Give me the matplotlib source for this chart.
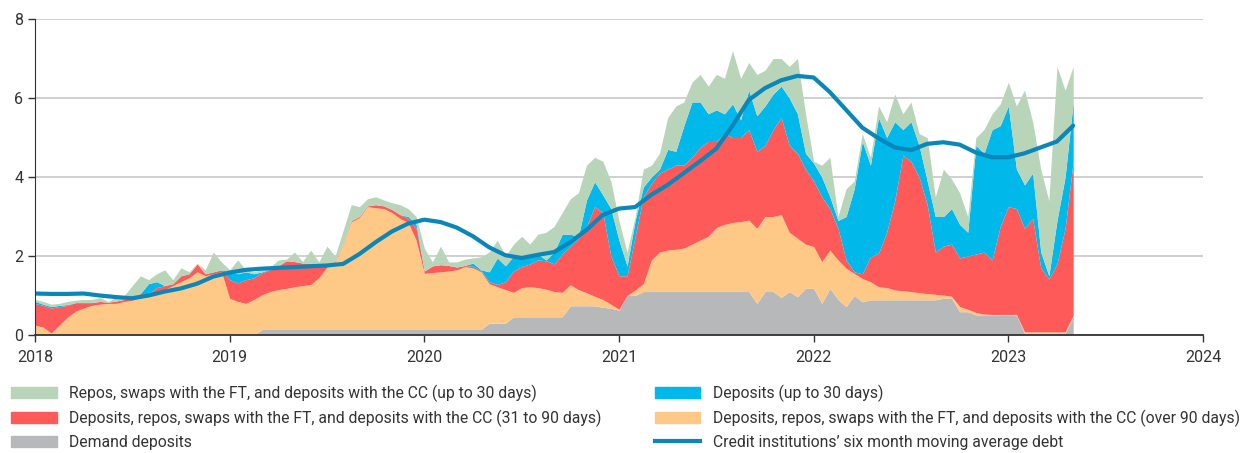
import matplotlib
matplotlib.use("Agg")
import matplotlib.pyplot as plt
from matplotlib.patches import Patch
from matplotlib.lines import Line2D
import numpy as np

plt.rcParams['font.family'] = ['Roboto', 'DejaVu Sans']

# half-monthly readings, Jan 2018 .. end Apr 2023 (top of each stacked layer, bn)
dates = 2018 + np.arange(129) / 24.0

top_demand = [0]*28 + [0.14]*28 + [0.3]*3 + [0.46]*7 + [0.74]*4 + [0.7, 0.68, 0.63, 1.0, 1.0] + \
    [1.1]*14 + [0.8, 1.1, 1.1, 0.95, 1.1, 0.97, 1.18,
                1.18, 0.8, 1.18, 0.9, 0.72, 1.0, 0.84] + [0.89]*9 + [0.93]*2 + [0.59]*2 + \
    [0.51]*6 + [0.04]*6 + [0.46]

top_over90 = [0.25, 0.2, 0.05, 0.25, 0.45, 0.6, 0.68, 0.75, 0.78, 0.8, 0.8, 0.85,
              0.88, 0.95, 1.0, 1.05, 1.15, 1.25, 1.35, 1.45, 1.6, 1.5, 1.55, 1.6,
              0.93, 0.85, 0.8, 0.9, 1.02, 1.1, 1.15, 1.18, 1.22, 1.25, 1.28, 1.45,
              1.72, 1.85, 2.3, 2.87, 2.97, 3.25, 3.22, 3.2, 3.1, 2.95, 2.85, 2.4,
              1.56, 1.58, 1.6, 1.62, 1.65, 1.73, 1.7, 1.6, 1.3, 1.22, 1.15, 1.08,
              1.2, 1.22, 1.2, 1.16, 1.1, 1.08, 1.27, 1.15, 1.07, 0.98, 0.9, 0.78,
              0.65, 1.0, 1.14, 1.3, 1.9, 2.1, 2.15, 2.17, 2.2, 2.3, 2.4, 2.5,
              2.72, 2.8, 2.85, 2.87, 2.91, 2.7, 3.0, 3.0, 3.05, 2.6, 2.45, 2.3,
              2.24, 1.86, 2.15, 1.9, 1.69, 1.56, 1.43, 1.35, 1.22, 1.2, 1.14, 1.12,
              1.1, 1.07, 1.05, 1.03, 1.01, 0.98, 0.72, 0.65, 0.57, 0.53, 0.52, 0.52,
              0.52, 0.52, 0.08, 0.08, 0.08, 0.08, 0.08, 0.08, 0.5]

top_31_90 = [0.8, 0.75, 0.68, 0.72, 0.75, 0.82, 0.82, 0.82, 0.85, 0.83, 0.86, 0.9,
             0.98, 1.05, 1.05, 1.2, 1.25, 1.3, 1.5, 1.55, 1.8, 1.55, 1.6, 1.65,
             1.4, 1.32, 1.4, 1.45, 1.58, 1.65, 1.75, 1.88, 1.86, 1.82, 1.82, 1.78,
             1.76, 1.87, 2.32, 2.9, 3.0, 3.27, 3.3, 3.27, 3.18, 3.05, 2.95, 2.7,
             1.62, 1.75, 1.78, 1.76, 1.72, 1.76, 1.74, 1.63, 1.35, 1.28, 1.35, 1.62,
             1.73, 1.8, 1.9, 1.88, 1.8, 2.05, 2.25, 2.45, 2.75, 3.25, 3.1, 2.0,
             1.5, 1.5, 2.5, 3.5, 3.84, 4.1, 4.2, 4.3, 4.3, 4.5, 4.75, 4.9,
             4.9, 5.1, 5.0, 5.0, 5.2, 4.65, 4.8, 5.2, 5.5, 4.8, 4.6, 4.2,
             3.9, 3.5, 3.2, 2.7, 1.9, 1.6, 1.55, 1.98, 2.07, 2.6, 3.4, 4.55,
             4.4, 4.0, 3.3, 2.1, 2.25, 2.3, 1.95, 2.0, 2.05, 2.1, 1.9, 2.75,
             3.25, 3.2, 2.7, 2.95, 1.7, 1.42, 1.8, 2.7, 4.4]

top_dep30 = [0.85, 0.78, 0.72, 0.75, 0.77, 0.82, 0.82, 0.82, 0.85, 0.83, 0.86, 0.9,
             0.98, 1.05, 1.3, 1.35, 1.25, 1.3, 1.5, 1.55, 1.8, 1.55, 1.6, 1.65,
             1.6, 1.55, 1.6, 1.55, 1.6, 1.67, 1.75, 1.88, 1.86, 1.82, 1.82, 1.78,
             1.76, 1.87, 2.32, 2.9, 3.0, 3.27, 3.3, 3.27, 3.18, 3.05, 3.0, 2.8,
             1.62, 1.75, 1.78, 1.76, 1.72, 1.76, 1.82, 1.65, 1.6, 1.95, 1.75, 2.0,
             1.95, 2.0, 2.05, 1.9, 2.1, 2.55, 2.55, 2.5, 3.42, 3.88, 3.55, 3.2,
             2.4, 1.75, 2.9, 3.75, 4.0, 4.2, 4.7, 4.65, 5.3, 5.9, 5.9, 5.6,
             5.7, 5.6, 5.85, 5.45, 6.2, 5.55, 5.8, 6.1, 6.3, 6.0, 5.6, 4.6,
             4.35, 4.0, 3.5, 2.9, 3.0, 3.7, 4.9, 4.3, 5.5, 5.0, 5.4, 5.2,
             5.4, 4.8, 3.9, 3.0, 3.0, 3.2, 2.8, 2.6, 4.8, 4.6, 5.2, 5.3,
             5.8, 4.2, 3.8, 4.1, 2.1, 1.5, 2.9, 4.0, 5.9]

top_repo30 = [0.9, 0.85, 0.78, 0.8, 0.85, 0.88, 0.9, 0.9, 0.95, 0.85, 0.95, 1.0,
              1.25, 1.5, 1.4, 1.55, 1.65, 1.4, 1.7, 1.6, 1.82, 1.65, 2.1, 1.85,
              1.65, 1.9, 1.65, 1.6, 1.65, 1.72, 1.9, 1.92, 2.1, 1.86, 2.15, 1.85,
              2.25, 2.0, 2.65, 3.3, 3.25, 3.45, 3.5, 3.42, 3.35, 3.3, 3.2, 3.0,
              2.2, 1.85, 2.25, 1.85, 1.85, 1.92, 1.95, 1.98, 2.1, 2.4, 2.0, 2.3,
              2.5, 2.3, 2.55, 2.6, 2.75, 3.1, 3.45, 3.6, 4.3, 4.5, 4.4, 3.9,
              2.9, 2.1, 3.0, 4.2, 4.3, 4.6, 5.5, 5.8, 5.9, 6.4, 6.6, 6.3,
              6.6, 6.5, 7.2, 6.5, 6.9, 6.6, 6.7, 7.0, 7.0, 6.8, 7.0, 5.6,
              4.4, 4.3, 4.5, 3.0, 3.7, 3.9, 5.1, 4.5, 5.8, 5.4, 6.1, 5.6,
              5.9, 5.1, 5.0, 3.5, 4.2, 3.95, 3.6, 3.0, 5.0, 5.2, 5.6, 5.85,
              6.4, 5.8, 6.2, 5.4, 4.2, 3.4, 6.8, 6.2, 6.8]

# six month moving average, monthly readings
avg_dates = 2018 + np.arange(65) / 12.0
avg_debt = [1.05, 1.04, 1.04, 1.05, 1.0, 0.96, 0.93, 1.0, 1.1, 1.18, 1.3, 1.48,
            1.58, 1.65, 1.68, 1.7, 1.72, 1.74, 1.76, 1.8, 2.05, 2.35, 2.62, 2.82,
            2.92, 2.86, 2.72, 2.5, 2.22, 2.02, 1.95, 2.03, 2.1, 2.35, 2.66, 3.04,
            3.2, 3.24, 3.55, 3.8, 4.1, 4.4, 4.72, 5.3, 5.95, 6.25, 6.45, 6.56,
            6.52, 6.15, 5.7, 5.25, 4.98, 4.75, 4.68, 4.84, 4.88, 4.82, 4.62, 4.5,
            4.5, 4.6, 4.75, 4.9, 5.3]

labels = ["Repos, swaps with the FT, and deposits with the CC (up to 30 days)",
          "Deposits, repos, swaps with the FT, and deposits with the CC (31 to 90 days)",
          "Demand deposits",
          "Deposits (up to 30 days)",
          "Deposits, repos, swaps with the FT, and deposits with the CC (over 90 days)",
          "Credit institutions\u2019 six month moving average debt"]

c_green = '#b8d5ba'
c_blue = '#00b9ea'
c_red = '#ff5a5a'
c_orange = '#fec987'
c_gray = '#b7b8ba'
c_line = '#0a86b9'

fig = plt.figure(figsize=(12.47, 4.53), dpi=100)
ax = fig.add_axes([0.028, 0.2605, 0.9367, 0.6975])

levels = [np.zeros(len(dates)), top_demand, top_over90, top_31_90, top_dep30, top_repo30]
colors = [c_gray, c_orange, c_red, c_blue, c_green]
for i in range(5):
    ax.fill_between(dates, levels[i], levels[i + 1], color=colors[i], lw=0)
ax.plot(avg_dates, avg_debt, color=c_line, lw=3, solid_capstyle='round')

ax.set_xlim(2018, 2024)
ax.set_ylim(0, 8)
ax.set_xticks(range(2018, 2025))
ax.set_yticks(range(0, 9, 2))
ax.yaxis.grid(True, color='#c8c8c8', lw=1.2)
ax.set_axisbelow(True)
for s in ['top', 'right']:
    ax.spines[s].set_visible(False)
ax.spines['left'].set_color('#333333')
ax.spines['bottom'].set_color('#333333')
ax.spines['bottom'].set_linewidth(1.3)
ax.tick_params(axis='both', labelsize=11.5, colors='#333333', length=5, width=1)
ax.tick_params(axis='x', pad=6)

h = [Patch(color=c_green), Patch(color=c_red), Patch(color=c_gray),
     Patch(color=c_blue), Patch(color=c_orange), Line2D([], [], color=c_line, lw=3)]
kw = dict(frameon=False, fontsize=11.3, handlelength=2.9, handleheight=0.7,
          handletextpad=0.8, labelspacing=0.48, borderaxespad=0, borderpad=0,
          labelcolor='#333333')
fig.legend(h[:3], labels[:3], loc='upper left', bbox_to_anchor=(0.009, 0.15), **kw)
fig.legend(h[3:], labels[3:], loc='upper left', bbox_to_anchor=(0.525, 0.15), **kw)

fig.savefig('out.png', dpi=100)
